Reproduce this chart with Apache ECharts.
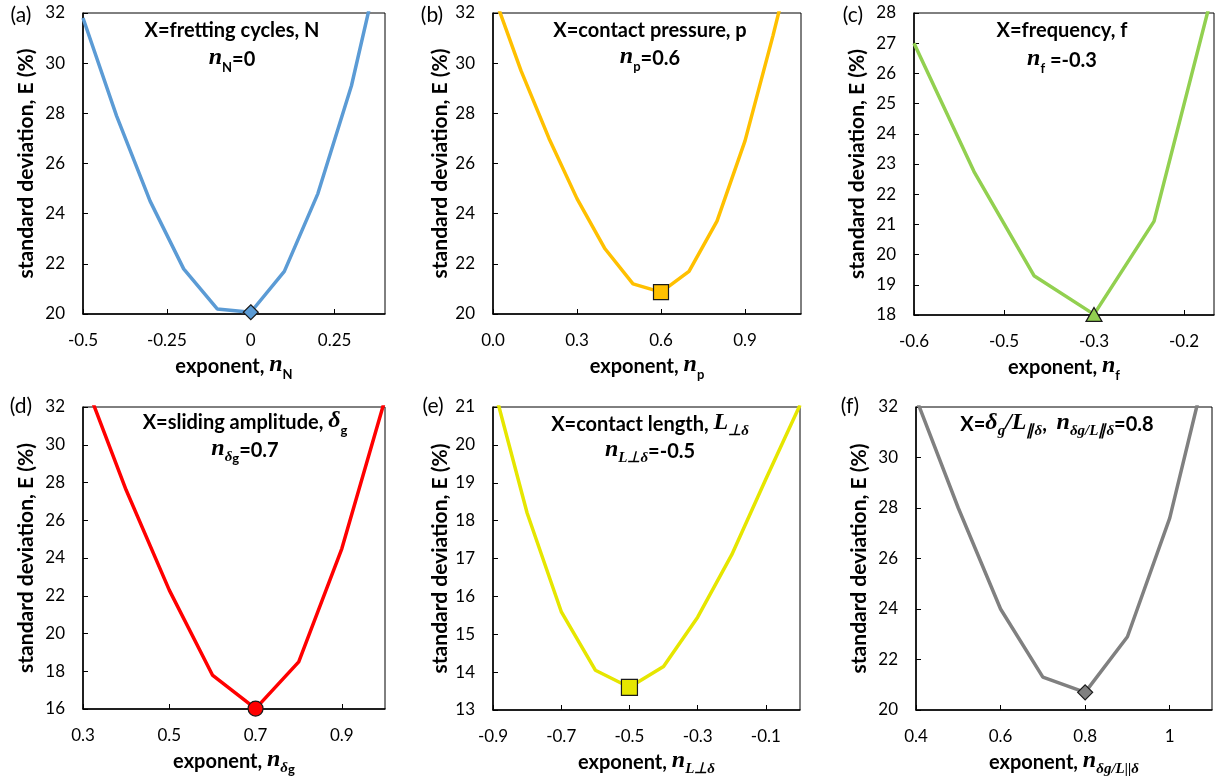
<!DOCTYPE html>
<html><head><meta charset="utf-8">
<script src="https://cdn.jsdelivr.net/npm/echarts@6/dist/echarts.min.js"></script>
<style>html,body{margin:0;padding:0;background:#fff}#c{width:1225px;height:778px}</style>
</head><body><div id="c"></div>
<script>
// ---- data ----
const xA = [-0.5,-0.4,-0.3,-0.2,-0.1,0,0.1,0.2,0.3,0.4];
const yA = [31.8,27.9,24.5,21.8,20.2,20.07,21.7,24.8,29.1,34.9];
const xB = [0,0.1,0.2,0.3,0.4,0.5,0.6,0.7,0.8,0.9,1.0,1.1];
const yB = [32.8,29.7,27.0,24.6,22.6,21.2,20.87,21.7,23.7,26.9,31.1,35.6];
const xC = [-0.6,-0.5,-0.4,-0.3,-0.2,-0.1];
const yC = [27.0,22.75,19.3,18.02,21.1,28.85];
const xD = [0.3,0.4,0.5,0.6,0.7,0.8,0.9,1.0];
const yD = [33.6,27.6,22.3,17.8,16.02,18.5,24.5,32.4];
const xE = [-0.9,-0.8,-0.7,-0.6,-0.5,-0.4,-0.3,-0.2,-0.1,0];
const yE = [21.6,18.2,15.6,14.05,13.6,14.15,15.45,17.1,19.1,21.05];
const xF = [0.4,0.5,0.6,0.7,0.8,0.9,1.0,1.1];
const yF = [32.35,28.0,24.0,21.3,20.7,22.9,27.6,34.5];

// axis ranges: [min, max, interval]
const xRanges = [[-0.5,0.4,0.25],[0,1.1,0.3],[-0.6,-0.1,0.15],[0.3,1.0,0.2],[-0.9,0,0.2],[0.4,1.1,0.2]];
const yRanges = [[20,32,2],[20,32,2],[18,28,1],[16,32,2],[13,21,1],[20,32,2]];
const panelLabels = ['(a)','(b)','(c)','(d)','(e)','(f)'];
const colors = ['#5B9BD5','#FFC000','#92D050','#FF0000','#E6E600','#808080'];
const symbols = ['diamond','rect','triangle','circle','rect','diamond'];
const titles1 = [
  '{b|X=fretting cycles, N}',
  '{b|X=contact pressure, p}',
  '{b|X=frequency, f}',
  '{b|X=sliding amplitude, }{m|δ}{s|g}',
  '{b|X=contact length, }{m|L}{ms|⊥δ}',
  '{b|X=}{m|δ}{ms|g}{m|/}{m|L}{ms|∥δ}{b|,  }{m|n}{ms|δg/L∥δ}{b|=0.8}'
];
const titles2 = [
  '{m|n}{s|N}{b|=0}',
  '{m|n}{s|p}{b|=0.6}',
  '{m|n}{s|f}{b| =-0.3}',
  '{m|n}{ms|δ}{s|g}{b|=0.7}',
  '{m|n}{ms|L⊥δ}{b|=-0.5}',
  ''
];
const xNames = [
  '{b|exponent, }{m|n}{s|N}',
  '{b|exponent, }{m|n}{s|p}',
  '{b|exponent, }{m|n}{s|f}',
  '{b|exponent, }{m|n}{ms|δ}{s|g}',
  '{b|exponent, }{m|n}{ms|L⊥δ}',
  '{b|exponent, }{m|n}{ms|δg/L||δ}'
];
const yName = 'standard deviation, E (%)';

// ---- layout ----
const grids = [
  {left:83, top:13, width:302, height:301},
  {left:493, top:13, width:308, height:301},
  {left:914, top:13, width:300, height:302},
  {left:83, top:407, width:302, height:302},
  {left:493, top:407, width:307, height:303},
  {left:916, top:407, width:296, height:303}
];
const yNameGaps = [46,42,46,46,42,46];
const titleCx = [232,650,1062,245,650,1057];
const titleY1 = [33,33,33,425,427,427];
const titleY2 = [62,61,63,453,454,0];
const labelPos = [[21,15],[432,15],[853,15],[21,406],[433,406],[850,406]];
const symSizes = [15,15,[16,14],15,16,15];

const SANS = 'Lato';
const SERIF = 'Liberation Serif';
const rich = {
  b: {fontFamily:SANS, fontWeight:'bold', fontSize:20, color:'#000', lineHeight:24, verticalAlign:'bottom', padding:[0,0,4,0]},
  m: {fontFamily:SERIF, fontStyle:'italic', fontWeight:'bold', fontSize:24, color:'#000', lineHeight:24, verticalAlign:'bottom', padding:[0,0,4,0]},
  s: {fontFamily:SANS, fontWeight:'bold', fontSize:13, color:'#000', lineHeight:16, verticalAlign:'bottom'},
  ms: {fontFamily:SERIF, fontStyle:'italic', fontWeight:'bold', fontSize:15, color:'#000', lineHeight:16, verticalAlign:'bottom'}
};

function fmtGeneral(v){ return String(+v.toFixed(4)); }
function fmtFixed1(v){ return v.toFixed(1); }
function fmtRoundAway1(v){ const s = v<0?-1:1; const r = s*Math.round(Math.abs(v)*10+1e-7)/10; return r.toFixed(1); }
const xFormatters = [fmtGeneral, fmtFixed1, fmtRoundAway1, fmtFixed1, fmtFixed1, fmtGeneral];

const xs = [xA,xB,xC,xD,xE,xF];
const ys = [yA,yB,yC,yD,yE,yF];

const option = {animation:false, backgroundColor:'#fff', grid:[], xAxis:[], yAxis:[], series:[], graphic:[]};
for (let i=0;i<6;i++){
  option.grid.push(Object.assign({show:true, borderColor:'#000', borderWidth:1, containLabel:false}, grids[i]));
  option.xAxis.push({
    type:'value', gridIndex:i, min:xRanges[i][0], max:xRanges[i][1], interval:xRanges[i][2],
    axisLine:{show:true, onZero:false, lineStyle:{color:'#000', width:1.5}},
    axisTick:{show:true, inside:true, length:5, lineStyle:{color:'#000', width:1}},
    splitLine:{show:false},
    axisLabel:{color:'#000', fontFamily:SANS, fontSize:17, margin:18, showMaxLabel:false, formatter:xFormatters[i]},
    name:xNames[i], nameLocation:'middle', nameGap:43,
    nameTextStyle:{rich:rich}
  });
  option.yAxis.push({
    type:'value', gridIndex:i, min:yRanges[i][0], max:yRanges[i][1], interval:yRanges[i][2],
    axisLine:{show:true, onZero:false, lineStyle:{color:'#000', width:1.5}},
    axisTick:{show:true, inside:true, length:5, lineStyle:{color:'#000', width:1}},
    splitLine:{show:false},
    axisLabel:{color:'#000', fontFamily:SANS, fontSize:17, margin:18},
    name:yName, nameLocation:'middle', nameGap:yNameGaps[i], nameRotate:90,
    nameTextStyle:{fontFamily:SANS, fontWeight:'bold', fontSize:21, color:'#000'}
  });
  const pts = xs[i].map((x,k)=>[x, ys[i][k]]);
  option.series.push({
    type:'line', xAxisIndex:i, yAxisIndex:i, data:pts, showSymbol:false, symbol:'none',
    clip:true, lineStyle:{color:colors[i], width:3.5}, z:2
  });
  const minIdx = ys[i].indexOf(Math.min.apply(null, ys[i]));
  option.series.push({
    type:'scatter', xAxisIndex:i, yAxisIndex:i, data:[pts[minIdx]], clip:false,
    symbol:symbols[i], symbolSize:symSizes[i],
    itemStyle:{color:colors[i], borderColor:'#1a1a1a', borderWidth:1.2, opacity:1}, z:5
  });
  option.graphic.push({type:'text', x:labelPos[i][0], y:labelPos[i][1], z:10,
    style:{text:panelLabels[i], font:'21px '+SANS, fill:'#000', align:'center', verticalAlign:'middle'}});
  option.graphic.push({type:'text', x:titleCx[i], y:titleY1[i], z:10,
    style:{text:titles1[i], rich:rich, align:'center', verticalAlign:'middle'}});
  if (titles2[i]) option.graphic.push({type:'text', x:titleCx[i], y:titleY2[i], z:10,
    style:{text:titles2[i], rich:rich, align:'center', verticalAlign:'middle'}});
}
const chart = echarts.init(document.getElementById('c'), null, {renderer:'canvas'});
chart.setOption(option);
</script>
</body></html>
